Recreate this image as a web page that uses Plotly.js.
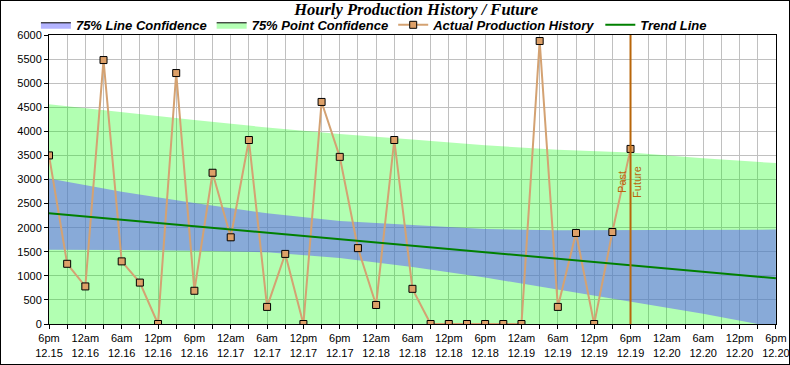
<!DOCTYPE html>
<html>
<head>
<meta charset="utf-8">
<script src="https://cdn.plot.ly/plotly-3.0.1.min.js"></script>
<style>
html,body{margin:0;padding:0;background:#fff;}
#wrap{width:790px;height:365px;box-sizing:border-box;border:1px solid #000;overflow:hidden;}
#chart{width:788px;height:363px;}
</style>
</head>
<body>
<div id="wrap"><div id="chart"></div></div>
<script>
// ---- data ----
const startTime = "2023-12-15 18:00";
const actualValues = [3500, 1250, 780, 5480, 1300, 860, 0, 5210, 690, 3140, 1800, 3820,
  355, 1455, 0, 4610, 3470, 1575, 395, 3820, 730, 0, 0, 0, 0, 0, 0, 5875, 355, 1890, 0, 1910, 3635];
const trendTimes = ["2023-12-15 18:00", "2023-12-20 18:00"];
const trendValues = [2300, 950];
const bandTimes = ["2023-12-15 18:00","2023-12-16 06:00","2023-12-16 18:00","2023-12-17 06:00",
  "2023-12-17 18:00","2023-12-18 06:00","2023-12-18 18:00","2023-12-19 06:00","2023-12-19 18:00",
  "2023-12-20 06:00","2023-12-20 15:00","2023-12-20 18:00"];
const pointUpper = [4560, 4390, 4235, 4080, 3945, 3830, 3710, 3620, 3560, 3440, 3360, 3340];
const lineUpper  = [3020, 2745, 2510, 2300, 2140, 2050, 1970, 1945, 1950, 1955, 1958, 1960];
const lineLower  = [1540, 1538, 1520, 1490, 1370, 1185, 965, 715, 465, 215, 0, 0];
const tickLabels = ["6pm<br>12.15","12am<br>12.16","6am<br>12.16","12pm<br>12.16","6pm<br>12.16",
  "12am<br>12.17","6am<br>12.17","12pm<br>12.17","6pm<br>12.17","12am<br>12.18","6am<br>12.18",
  "12pm<br>12.18","6pm<br>12.18","12am<br>12.19","6am<br>12.19","12pm<br>12.19","6pm<br>12.19",
  "12am<br>12.20","6am<br>12.20","12pm<br>12.20","6pm<br>12.20"];
const dividerTime = "2023-12-19 18:00";

// ---- helpers (time positions) ----
function fmt(d){
  const p = n => String(n).padStart(2,'0');
  return d.getFullYear()+'-'+p(d.getMonth()+1)+'-'+p(d.getDate())+' '+p(d.getHours())+':'+p(d.getMinutes());
}
const t0 = new Date(startTime.replace(' ','T'));
const actualTimes = actualValues.map((v,i)=>fmt(new Date(t0.getTime()+i*3*3600e3)));
const tickVals = [], tickText = [];
for(let i=0;i<=40;i++){
  tickVals.push(fmt(new Date(t0.getTime()+i*3*3600e3)));
  tickText.push(i%2===0 ? tickLabels[i/2] : '');
}
const rangeEnd = fmt(new Date(t0.getTime()+40*3*3600e3+60e3));

const legendFont = {family:'Arial, "Liberation Sans", sans-serif', size:13, weight:'bold', style:'italic', color:'#000'};

const traces = [
  // legend-only swatches
  {x:[null], y:[null], type:'scatter', mode:'lines', fill:'toself', fillcolor:'#B4B4FF',
   name:'75% Line Confidence', legendrank:1, line:{color:'#000',width:1}},
  {x:[null], y:[null], type:'scatter', mode:'lines', fill:'toself', fillcolor:'#B4FFB4',
   name:'75% Point Confidence', legendrank:2, line:{color:'#000',width:1}},
  // point confidence band
  {x:bandTimes, y:pointUpper, type:'scatter', mode:'lines', line:{width:0}, fill:'tozeroy',
   fillcolor:'rgba(0,255,0,0.3)', showlegend:false, hoverinfo:'skip'},
  // line confidence band
  {x:bandTimes, y:lineLower, type:'scatter', mode:'lines', line:{width:0}, showlegend:false, hoverinfo:'skip'},
  {x:bandTimes, y:lineUpper, type:'scatter', mode:'lines', line:{width:0}, fill:'tonexty',
   fillcolor:'rgba(93,85,253,0.5)', showlegend:false, hoverinfo:'skip'},
  // actual
  {x:actualTimes, y:actualValues, type:'scatter', mode:'lines+markers', name:'Actual Production History',
   line:{color:'#D4A272', width:2}, legendrank:3,
   marker:{symbol:'square', size:7, color:'#DDA068', line:{color:'#000', width:1}}},
  // trend
  {x:trendTimes, y:trendValues, type:'scatter', mode:'lines', name:'Trend Line', legendrank:4,
   line:{color:'#008000', width:2}}
];

const axisFont = {family:'Arial, "Liberation Sans", sans-serif', size:11, color:'#000'};
const layout = {
  width:788, height:363,
  margin:{l:48, r:13, t:34, b:40, autoexpand:false},
  paper_bgcolor:'#fff', plot_bgcolor:'#fff',
  title:{text:'<b><i>Hourly Production History / Future</i></b>',
    font:{family:'"Times New Roman", "Liberation Serif", serif', size:16.5, color:'#000'},
    x:0.505, xref:'paper', y:0.992, yanchor:'top'},
  showlegend:true,
  legend:{orientation:'h', x:-0.018, xanchor:'left', y:1.087, yanchor:'top', font:legendFont,
    bgcolor:'rgba(0,0,0,0)', itemwidth:30, traceorder:'normal'},
  xaxis:{type:'date', range:[tickVals[0], rangeEnd], tickmode:'array', tickvals:tickVals,
    ticktext:tickText, tickangle:0, tickfont:axisFont, ticks:'outside', ticklen:4, tickcolor:'#000',
    showgrid:true, gridcolor:'#C0C0C0', gridwidth:1, showline:true, linecolor:'#000', linewidth:1,
    mirror:true, zeroline:false, fixedrange:true, ticklabeloverflow:'allow', automargin:false},
  yaxis:{range:[0,6000], dtick:500, tick0:0, tickfont:axisFont, ticks:'outside', ticklen:4,
    tickcolor:'#000', showgrid:true, gridcolor:'#C0C0C0', gridwidth:1, showline:true, linecolor:'#000',
    linewidth:1, mirror:true, zeroline:false, fixedrange:true, automargin:false},
  shapes:[{type:'line', xref:'x', yref:'paper', x0:dividerTime, x1:dividerTime, y0:0, y1:1,
    line:{color:'#B8660A', width:2}}],
  annotations:[
    {x:dividerTime, y:2940, xref:'x', yref:'y', text:'Past', textangle:-90, showarrow:false,
     xshift:-8, font:{family:'Arial, "Liberation Sans", sans-serif', size:11, color:'#B8660A'}},
    {x:dividerTime, y:2940, xref:'x', yref:'y', text:'Future', textangle:-90, showarrow:false,
     xshift:7, font:{family:'Arial, "Liberation Sans", sans-serif', size:11, color:'#B8660A'}}
  ]
};
Plotly.newPlot('chart', traces, layout, {displayModeBar:false, staticPlot:true});
</script>
</body>
</html>
